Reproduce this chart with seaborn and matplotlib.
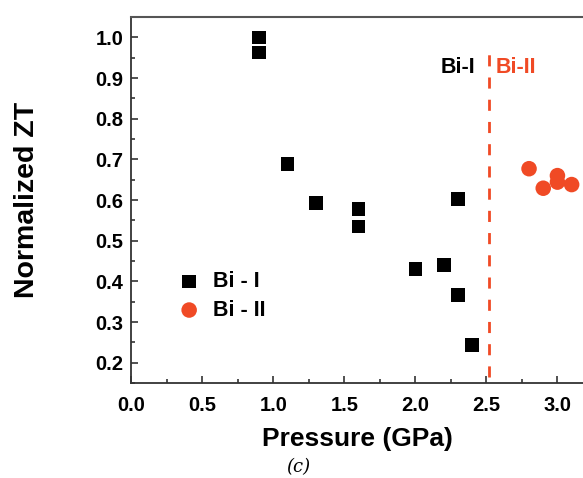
import matplotlib
matplotlib.use("Agg")
import matplotlib.pyplot as plt
import seaborn as sns
import pandas as pd
from matplotlib.ticker import MultipleLocator, FormatStrFormatter

bi1_p = [0.9, 0.9, 1.1, 1.3, 1.6, 1.6, 2.0, 2.2, 2.3, 2.3, 2.4]
bi1_zt = [1.0, 0.963, 0.688, 0.593, 0.578, 0.535, 0.43, 0.44, 0.367, 0.603, 0.244]
bi2_p = [2.8, 2.9, 3.0, 3.0, 3.1]
bi2_zt = [0.677, 0.629, 0.66, 0.644, 0.638]
transition = 2.52

sns.set_theme(style="white")
plt.rcParams['font.family'] = ['Liberation Sans', 'DejaVu Sans']
plt.rcParams['font.weight'] = 'bold'
plt.rcParams['text.color'] = 'black'
plt.rcParams['xtick.color'] = 'black'
plt.rcParams['ytick.color'] = 'black'
plt.rcParams['axes.labelcolor'] = 'black'

red = '#f04a25'
fig = plt.figure(figsize=(5.83, 4.78), dpi=100)
ax = fig.add_axes([0.2255, 0.1987, 0.7745, 0.7657])

df1 = pd.DataFrame({'p': bi1_p, 'zt': bi1_zt})
df2 = pd.DataFrame({'p': bi2_p, 'zt': bi2_zt})
sns.scatterplot(data=df1, x='p', y='zt', marker='s', s=95, color='black',
                edgecolor='none', label='Bi - I', ax=ax, zorder=3)
sns.scatterplot(data=df2, x='p', y='zt', marker='o', s=125, color=red,
                edgecolor='none', label='Bi - II', ax=ax, zorder=3)

ax.plot([transition, transition], [0.165, 0.96], color=red, lw=2,
        dashes=(4, 4))
ax.text(transition - 0.10, 0.925, 'Bi-I', ha='right', va='center',
        fontsize=15.5, fontweight='bold', color='black')
ax.text(transition + 0.045, 0.925, 'Bi-II', ha='left', va='center',
        fontsize=15.5, fontweight='bold', color=red)

ax.set_xlim(0, 3.18)
ax.set_ylim(0.15, 1.05)
ax.xaxis.set_major_locator(MultipleLocator(0.5))
ax.xaxis.set_minor_locator(MultipleLocator(0.25))
ax.yaxis.set_major_locator(MultipleLocator(0.1))
ax.yaxis.set_minor_locator(MultipleLocator(0.05))
ax.xaxis.set_major_formatter(FormatStrFormatter('%.1f'))
ax.yaxis.set_major_formatter(FormatStrFormatter('%.1f'))
ax.tick_params(axis='both', which='major', direction='in', length=5, width=1.2,
               labelsize=14.5, color='#333333', bottom=True, left=True)
ax.tick_params(axis='x', which='major', pad=9)
ax.tick_params(axis='y', which='major', pad=6)
ax.tick_params(axis='both', which='minor', direction='in', length=3, width=1.2,
               color='#333333', bottom=True, left=True)
for lbl in ax.get_xticklabels() + ax.get_yticklabels():
    lbl.set_fontweight('bold')

for s in ['left', 'bottom']:
    ax.spines[s].set_color('#333333')
    ax.spines[s].set_linewidth(1.3)
ax.spines['top'].set_color('#555555')
ax.spines['top'].set_linewidth(1.5)
ax.spines['right'].set_visible(False)

ax.set_xlabel('Pressure (GPa)', fontsize=19, fontweight='bold', labelpad=9)
ax.set_ylabel('Normalized ZT', fontsize=20.5, fontweight='bold', labelpad=40)

leg = ax.legend(loc='center left', bbox_to_anchor=(0.061, 0.238), frameon=False,
                prop={'size': 15.5, 'weight': 'bold'}, handlelength=1.0,
                handletextpad=0.6, labelspacing=0.35, markerscale=1.0)

fig.text(0.511, 0.023, '(c)', fontsize=13, style='italic', family='DejaVu Serif',
         fontweight='normal', ha='center', va='center')

fig.savefig('out.png', dpi=100)
